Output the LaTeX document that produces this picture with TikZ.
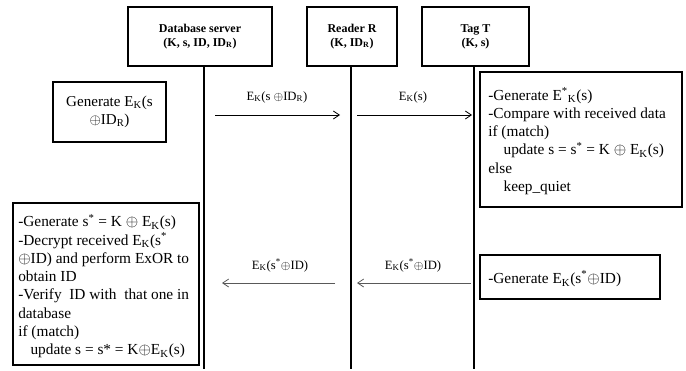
\documentclass[tikz,border=0pt]{standalone}
\usepackage{fontspec}
\setmainfont{Liberation Serif}
\usetikzlibrary{arrows.meta}
\begin{document}
\begin{tikzpicture}[x=0.75pt,y=-0.75pt,
  hdr/.style={draw,line width=1.3pt,font=\fontsize{9}{10.5}\selectfont\bfseries,align=center,inner sep=0pt},
  pbox/.style={draw,line width=1.2pt,inner sep=0pt},
  ptext/.style={font=\fontsize{11.5}{13.7}\selectfont,align=left,inner sep=0pt,anchor=west},
  lifeline/.style={line width=1.7pt},
  msg/.style={line width=0.6pt,-{Straight Barb[length=4.5pt,width=6pt]}},
  msgback/.style={msg,draw=black!65},
  lbl/.style={font=\fontsize{9.5}{11}\selectfont,inner sep=1pt}
]
\useasboundingbox (0,0) rectangle (686,371);
% headers
\node[hdr,minimum width=108pt,minimum height=44.25pt] (db) at (200,36.5) {Database server\\(K, s, ID, ID\textsubscript{R})};
\node[hdr,minimum width=67.5pt,minimum height=44.25pt] (rd) at (352,36.5) {Reader R\\(K, ID\textsubscript{R})};
\node[hdr,minimum width=80.25pt,minimum height=44.25pt] (tg) at (475.5,36.5) {Tag T\\(K, s)};
% lifelines
\coordinate (dbend) at (204,369);
\coordinate (rdend) at (351,369);
\coordinate (tgend) at (474,369);
\draw[lifeline] (db.south -| dbend) -- (dbend);
\draw[lifeline] (rd.south -| rdend) -- (rdend);
\draw[lifeline] (tg.south -| tgend) -- (tgend);
% generate box (database)
\node[pbox,minimum width=84.75pt,minimum height=45pt,font=\fontsize{11.3}{13.7}\selectfont,align=center] (gen) at (109.5,112) {Generate E\textsubscript{K}(s\\$\oplus$ID\textsubscript{R})};
% tag processing box
\node[pbox,minimum width=151.5pt,minimum height=101.25pt] (tbox) at (581,139.5) {};
\node[ptext] (ttext) at (488,141) {-Generate E\textsuperscript{*}\textsubscript{K}(s)\\
-Compare with received data\\
if (match)\\
\hspace*{1em}update s = s\textsuperscript{*} = K $\oplus$ E\textsubscript{K}(s)\\
else\\
\hspace*{1em}keep\_quiet};
% database verification box
\node[pbox,minimum width=139.5pt,minimum height=121.5pt] (dbox) at (106,284) {};
\node[ptext] (dtext) at (18,286) {-Generate s\textsuperscript{*} = K $\oplus$ E\textsubscript{K}(s)\\
-Decrypt received E\textsubscript{K}(s\textsuperscript{*}\\
$\oplus$ID) and perform ExOR to\\
obtain ID\\
-Verify\ \ ID with\ \ that one in\\
database\\
if (match)\\
\hspace*{0.8em}update s = s* = K$\oplus$E\textsubscript{K}(s)};
% tag generate box
\node[pbox,minimum width=135pt,minimum height=33pt] (tgen) at (570,277) {};
\node[ptext] (tgtext) at (488,279) {-Generate E\textsubscript{K}(s\textsuperscript{*}$\oplus$ID)};
% messages
\coordinate (a1s) at (215,115); \coordinate (a1e) at (340,115);
\coordinate (a2s) at (357,115); \coordinate (a2e) at (472,115);
\coordinate (b1s) at (335,283); \coordinate (b1e) at (222,283);
\coordinate (b2s) at (471,283); \coordinate (b2e) at (357,283);
\draw[msg] (a1s) -- (a1e);
\draw[msg] (a2s) -- (a2e);
\draw[msgback] (b2s) -- (b2e);
\draw[msgback] (b1s) -- (b1e);
\node[lbl] (l1) at (277,97) {E\textsubscript{K}(s $\oplus$ID\textsubscript{R})};
\node[lbl] (l2) at (413,97) {E\textsubscript{K}(s)};
\node[lbl] (l3) at (280,265) {E\textsubscript{K}(s\textsuperscript{*}$\oplus$ID)};
\node[lbl] (l4) at (413,265) {E\textsubscript{K}(s\textsuperscript{*}$\oplus$ID)};
\end{tikzpicture}
\end{document}
